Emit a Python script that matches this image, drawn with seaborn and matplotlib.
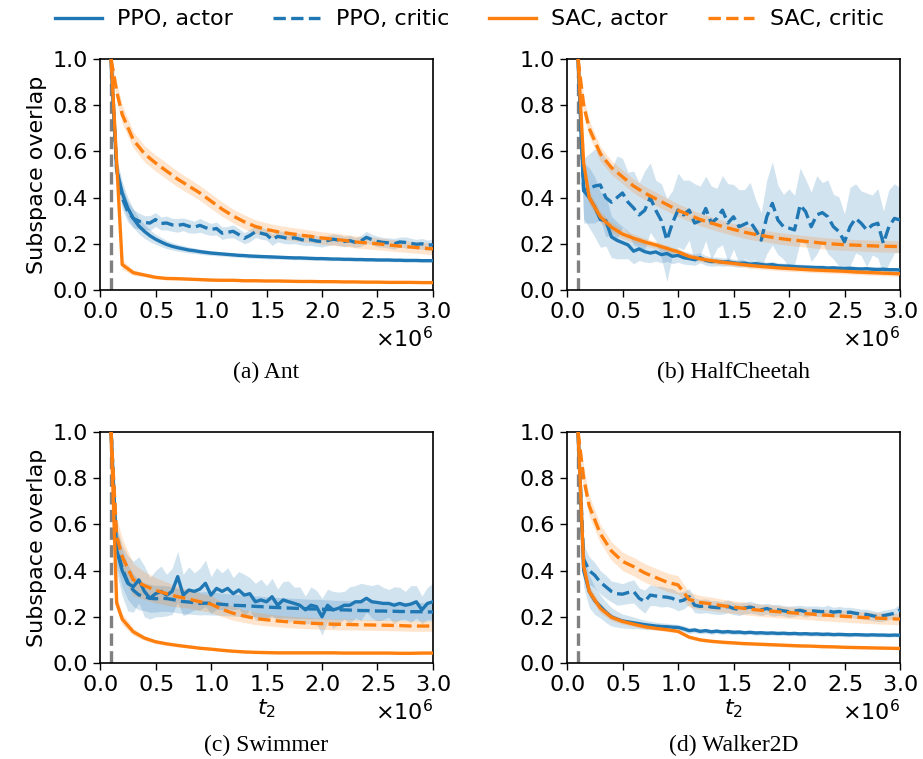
import numpy as np
import matplotlib
matplotlib.use("Agg")
import matplotlib.pyplot as plt
import seaborn as sns

# ---------------- data (x in units of 1e6 environment steps) ----------------
ppo_t = [0.10, 0.15, 0.20, 0.25, 0.30, 0.35, 0.40, 0.45, 0.50, 0.55,
         0.60, 0.65, 0.70, 0.75, 0.80, 0.85, 0.90, 0.95, 1.00, 1.05,
         1.10, 1.15, 1.20, 1.25, 1.30, 1.35, 1.40, 1.45, 1.50, 1.55,
         1.60, 1.65, 1.70, 1.75, 1.80, 1.85, 1.90, 1.95, 2.00, 2.05,
         2.10, 2.15, 2.20, 2.25, 2.30, 2.35, 2.40, 2.45, 2.50, 2.55,
         2.60, 2.65, 2.70, 2.75, 2.80, 2.85, 2.90, 2.95, 3.00]
sac_t = [0.10, 0.15, 0.20, 0.30, 0.40, 0.50, 0.60, 0.70, 0.80, 0.90, 1.00,
         1.10, 1.20, 1.30, 1.40, 1.50, 1.60, 1.70, 1.80, 1.90, 2.00,
         2.10, 2.20, 2.30, 2.40, 2.50, 2.60, 2.70, 2.80, 2.90, 3.00]

# ----- Ant -----
ant_ppo_actor = [1.00, 0.52, 0.42, 0.355, 0.31, 0.277, 0.254, 0.235, 0.220, 0.208,
                 0.197, 0.189, 0.183, 0.178, 0.173, 0.170, 0.166, 0.163, 0.160, 0.158,
                 0.156, 0.154, 0.152, 0.150, 0.149, 0.147, 0.146, 0.145, 0.144, 0.143,
                 0.142, 0.141, 0.140, 0.139, 0.139, 0.138, 0.137, 0.136, 0.136, 0.135,
                 0.134, 0.134, 0.133, 0.133, 0.132, 0.132, 0.131, 0.131, 0.130, 0.130,
                 0.130, 0.129, 0.129, 0.128, 0.128, 0.128, 0.127, 0.127, 0.127]
ant_ppo_actor_hw = [0.0, 0.05, 0.05, 0.045, 0.04, 0.034, 0.03, 0.026, 0.022, 0.02,
                    0.018, 0.016, 0.015, 0.014, 0.013, 0.012, 0.011, 0.011, 0.010, 0.010,
                    0.009, 0.009, 0.009, 0.009, 0.009, 0.009, 0.009, 0.009, 0.009, 0.009,
                    0.008, 0.008, 0.008, 0.008, 0.008, 0.008, 0.008, 0.008, 0.008, 0.008,
                    0.007, 0.007, 0.007, 0.007, 0.007, 0.007, 0.007, 0.007, 0.007, 0.007,
                    0.007, 0.007, 0.007, 0.007, 0.007, 0.007, 0.007, 0.007, 0.007]
ant_ppo_critic = [1.00, 0.52, 0.40, 0.34, 0.31, 0.298, 0.292, 0.290, 0.305, 0.288,
                  0.290, 0.282, 0.280, 0.284, 0.276, 0.272, 0.280, 0.270, 0.262, 0.266,
                  0.246, 0.250, 0.254, 0.240, 0.224, 0.236, 0.252, 0.246, 0.240, 0.218,
                  0.232, 0.228, 0.222, 0.226, 0.220, 0.214, 0.218, 0.212, 0.210, 0.214,
                  0.220, 0.216, 0.210, 0.214, 0.206, 0.212, 0.228, 0.218, 0.210, 0.206,
                  0.204, 0.200, 0.208, 0.206, 0.202, 0.198, 0.200, 0.194, 0.196]
ant_ppo_critic_hw = [0.0, 0.05, 0.05, 0.045, 0.04, 0.035, 0.03, 0.032, 0.03, 0.028,
                     0.03, 0.028, 0.03, 0.027, 0.029, 0.026, 0.03, 0.028, 0.026, 0.028,
                     0.027, 0.025, 0.028, 0.026, 0.024, 0.027, 0.025, 0.026, 0.024, 0.025,
                     0.024, 0.026, 0.023, 0.025, 0.024, 0.022, 0.025, 0.023, 0.024, 0.022,
                     0.023, 0.024, 0.022, 0.023, 0.021, 0.024, 0.026, 0.022, 0.023, 0.021,
                     0.022, 0.023, 0.021, 0.024, 0.022, 0.021, 0.023, 0.022, 0.024]
ant_sac_actor = [1.0, 0.555, 0.11, 0.075, 0.065, 0.055, 0.05, 0.049, 0.047, 0.045, 0.043,
                 0.042, 0.042, 0.040, 0.040, 0.039, 0.039, 0.038, 0.037, 0.037, 0.036,
                 0.036, 0.035, 0.035, 0.034, 0.034, 0.033, 0.033, 0.033, 0.032, 0.032]
ant_sac_actor_hw = [0.0, 0.02, 0.02, 0.012, 0.008, 0.007, 0.006, 0.005, 0.005, 0.005, 0.005,
                    0.004, 0.004, 0.004, 0.004, 0.004, 0.004, 0.004, 0.004, 0.004, 0.004,
                    0.004, 0.004, 0.004, 0.004, 0.004, 0.004, 0.004, 0.004, 0.004, 0.004]
ant_sac_critic = [1.0, 0.86, 0.76, 0.65, 0.59, 0.55, 0.515, 0.48, 0.45, 0.42, 0.385,
                  0.35, 0.32, 0.295, 0.275, 0.262, 0.252, 0.245, 0.238, 0.232, 0.225,
                  0.220, 0.215, 0.208, 0.204, 0.200, 0.195, 0.190, 0.186, 0.182, 0.178]
ant_sac_critic_hw = [0.0, 0.04, 0.04, 0.035, 0.035, 0.035, 0.035, 0.034, 0.033, 0.032, 0.032,
                     0.031, 0.03, 0.03, 0.029, 0.029, 0.028, 0.028, 0.028, 0.027, 0.027,
                     0.027, 0.026, 0.026, 0.026, 0.026, 0.025, 0.025, 0.025, 0.025, 0.025]

# ----- HalfCheetah -----
hc_ppo_actor = [1.00, 0.43, 0.40, 0.36, 0.305, 0.30, 0.23, 0.215, 0.205, 0.195,
                0.168, 0.178, 0.166, 0.160, 0.165, 0.153, 0.158, 0.146, 0.150, 0.140,
                0.136, 0.131, 0.140, 0.128, 0.123, 0.124, 0.121, 0.122, 0.118, 0.115,
                0.117, 0.112, 0.114, 0.110, 0.108, 0.110, 0.105, 0.104, 0.103, 0.101,
                0.100, 0.099, 0.098, 0.097, 0.097, 0.095, 0.096, 0.094, 0.093, 0.094,
                0.092, 0.091, 0.092, 0.090, 0.089, 0.090, 0.088, 0.088, 0.087]
hc_ppo_actor_hw = [0.0, 0.12, 0.13, 0.13, 0.12, 0.11, 0.09, 0.08, 0.07, 0.06,
                   0.055, 0.05, 0.045, 0.042, 0.04, 0.036, 0.034, 0.032, 0.03, 0.028,
                   0.026, 0.024, 0.022, 0.021, 0.02, 0.019, 0.018, 0.017, 0.016, 0.016,
                   0.015, 0.015, 0.014, 0.014, 0.013, 0.013, 0.013, 0.012, 0.012, 0.012,
                   0.012, 0.011, 0.011, 0.011, 0.011, 0.010, 0.010, 0.010, 0.010, 0.010,
                   0.010, 0.010, 0.010, 0.009, 0.009, 0.009, 0.009, 0.009, 0.009]
hc_ppo_critic = [1.00, 0.43, 0.44, 0.45, 0.455, 0.40, 0.38, 0.40, 0.42, 0.38,
                 0.355, 0.325, 0.345, 0.40, 0.345, 0.30, 0.216, 0.29, 0.346, 0.325,
                 0.346, 0.29, 0.30, 0.353, 0.29, 0.31, 0.346, 0.29, 0.317, 0.274,
                 0.285, 0.296, 0.26, 0.216, 0.317, 0.375, 0.303, 0.274, 0.268, 0.26,
                 0.368, 0.339, 0.274, 0.325, 0.335, 0.317, 0.274, 0.253, 0.209, 0.274,
                 0.31, 0.289, 0.26, 0.281, 0.289, 0.202, 0.274, 0.31, 0.303]
hc_ppo_critic_hw = [0.0, 0.14, 0.15, 0.16, 0.15, 0.17, 0.14, 0.18, 0.15, 0.13,
                    0.16, 0.14, 0.17, 0.15, 0.13, 0.16, 0.18, 0.14, 0.16, 0.15,
                    0.13, 0.17, 0.15, 0.14, 0.16, 0.13, 0.15, 0.17, 0.14, 0.16,
                    0.15, 0.17, 0.13, 0.12, 0.16, 0.18, 0.15, 0.14, 0.17, 0.15,
                    0.16, 0.14, 0.15, 0.17, 0.13, 0.16, 0.14, 0.15, 0.12, 0.17,
                    0.15, 0.14, 0.16, 0.13, 0.15, 0.14, 0.16, 0.15, 0.14]
hc_sac_actor = [1.0, 0.55, 0.40, 0.317, 0.272, 0.242, 0.224, 0.208, 0.195, 0.18, 0.165,
                0.145, 0.135, 0.127, 0.12, 0.115, 0.109, 0.104, 0.100, 0.096, 0.093,
                0.090, 0.087, 0.085, 0.083, 0.081, 0.078, 0.076, 0.074, 0.072, 0.070]
hc_sac_actor_hw = [0.0, 0.03, 0.03, 0.025, 0.022, 0.02, 0.018, 0.016, 0.015, 0.014, 0.013,
                   0.012, 0.012, 0.012, 0.012, 0.012, 0.012, 0.012, 0.012, 0.012, 0.012,
                   0.011, 0.011, 0.011, 0.011, 0.011, 0.011, 0.011, 0.011, 0.011, 0.011]
hc_sac_critic = [1.0, 0.80, 0.70, 0.59, 0.53, 0.49, 0.45, 0.42, 0.395, 0.37, 0.345,
                 0.325, 0.305, 0.29, 0.275, 0.262, 0.25, 0.24, 0.232, 0.224, 0.218,
                 0.213, 0.208, 0.203, 0.199, 0.196, 0.194, 0.192, 0.190, 0.189, 0.188]
hc_sac_critic_hw = [0.0, 0.04, 0.035, 0.032, 0.03, 0.03, 0.03, 0.029, 0.029, 0.028, 0.028,
                    0.027, 0.027, 0.027, 0.026, 0.026, 0.026, 0.026, 0.025, 0.025, 0.025,
                    0.025, 0.025, 0.025, 0.025, 0.025, 0.025, 0.025, 0.025, 0.025, 0.025]

# ----- Swimmer -----
sw_ppo_actor = [1.00, 0.49, 0.40, 0.345, 0.33, 0.36, 0.31, 0.28, 0.30, 0.31,
                0.294, 0.31, 0.374, 0.294, 0.316, 0.31, 0.32, 0.345, 0.294, 0.323,
                0.31, 0.323, 0.30, 0.316, 0.294, 0.30, 0.265, 0.273, 0.265, 0.287,
                0.25, 0.273, 0.265, 0.258, 0.25, 0.23, 0.25, 0.244, 0.20, 0.25,
                0.23, 0.237, 0.25, 0.25, 0.265, 0.265, 0.28, 0.265, 0.262, 0.258,
                0.258, 0.25, 0.258, 0.25, 0.255, 0.265, 0.23, 0.258, 0.265]
sw_ppo_actor_hw = [0.0, 0.10, 0.11, 0.12, 0.11, 0.10, 0.11, 0.09, 0.10, 0.11,
                   0.09, 0.10, 0.11, 0.09, 0.10, 0.08, 0.09, 0.10, 0.08, 0.09,
                   0.08, 0.09, 0.07, 0.08, 0.09, 0.07, 0.08, 0.09, 0.07, 0.08,
                   0.07, 0.08, 0.09, 0.07, 0.08, 0.06, 0.08, 0.07, 0.08, 0.07,
                   0.08, 0.07, 0.06, 0.08, 0.07, 0.08, 0.06, 0.07, 0.08, 0.07,
                   0.06, 0.08, 0.07, 0.06, 0.08, 0.07, 0.06, 0.07, 0.08]
sw_ppo_critic = [1.00, 0.50, 0.41, 0.35, 0.315, 0.295, 0.287, 0.28, 0.278, 0.28,
                 0.279, 0.275, 0.27, 0.266, 0.264, 0.261, 0.258, 0.259, 0.258, 0.256,
                 0.254, 0.252, 0.250, 0.249, 0.248, 0.247, 0.245, 0.244, 0.242, 0.241,
                 0.240, 0.239, 0.238, 0.237, 0.236, 0.235, 0.234, 0.234, 0.233, 0.232,
                 0.231, 0.230, 0.230, 0.229, 0.228, 0.227, 0.227, 0.226, 0.225, 0.225,
                 0.224, 0.224, 0.223, 0.223, 0.222, 0.222, 0.222, 0.221, 0.221]
sw_ppo_critic_hw = [0.0, 0.08, 0.08, 0.075, 0.07, 0.065, 0.06, 0.06, 0.058, 0.056,
                    0.055, 0.054, 0.053, 0.052, 0.052, 0.051, 0.05, 0.05, 0.05, 0.049,
                    0.048, 0.048, 0.047, 0.047, 0.046, 0.046, 0.045, 0.045, 0.045, 0.044,
                    0.044, 0.044, 0.043, 0.043, 0.043, 0.042, 0.042, 0.042, 0.042, 0.041,
                    0.041, 0.041, 0.041, 0.041, 0.041, 0.041, 0.041, 0.041, 0.041, 0.041,
                    0.040, 0.040, 0.040, 0.040, 0.040, 0.040, 0.040, 0.040, 0.040]
sw_sac_actor = [1.0, 0.26, 0.19, 0.135, 0.108, 0.092, 0.083, 0.076, 0.070, 0.064, 0.060,
                0.055, 0.051, 0.048, 0.046, 0.045, 0.044, 0.044, 0.044, 0.044, 0.044,
                0.044, 0.043, 0.043, 0.043, 0.043, 0.043, 0.042, 0.042, 0.043, 0.043]
sw_sac_actor_hw = [0.0, 0.03, 0.025, 0.015, 0.01, 0.008, 0.007, 0.006, 0.006, 0.005, 0.005,
                   0.005, 0.005, 0.005, 0.005, 0.005, 0.005, 0.005, 0.005, 0.005, 0.005,
                   0.004, 0.004, 0.004, 0.004, 0.004, 0.004, 0.004, 0.004, 0.004, 0.004]
sw_sac_critic = [1.0, 0.55, 0.46, 0.36, 0.335, 0.315, 0.30, 0.287, 0.277, 0.265, 0.255,
                 0.232, 0.215, 0.203, 0.193, 0.187, 0.182, 0.178, 0.175, 0.172, 0.170,
                 0.168, 0.167, 0.166, 0.165, 0.164, 0.163, 0.162, 0.160, 0.160, 0.160]
sw_sac_critic_hw = [0.0, 0.08, 0.08, 0.07, 0.06, 0.055, 0.05, 0.045, 0.04, 0.038, 0.036,
                    0.032, 0.03, 0.028, 0.027, 0.026, 0.025, 0.025, 0.025, 0.024, 0.024,
                    0.024, 0.024, 0.023, 0.023, 0.023, 0.023, 0.023, 0.023, 0.023, 0.023]

# ----- Walker2D -----
wk_ppo_actor = [1.00, 0.40, 0.31, 0.27, 0.245, 0.22, 0.20, 0.19, 0.182, 0.178,
                0.174, 0.17, 0.166, 0.163, 0.16, 0.158, 0.157, 0.155, 0.154, 0.148,
                0.14, 0.143, 0.137, 0.14, 0.135, 0.138, 0.134, 0.136, 0.133, 0.134,
                0.131, 0.133, 0.13, 0.131, 0.129, 0.13, 0.128, 0.129, 0.127, 0.128,
                0.126, 0.127, 0.125, 0.126, 0.124, 0.125, 0.123, 0.124, 0.123, 0.122,
                0.123, 0.122, 0.121, 0.122, 0.121, 0.121, 0.120, 0.121, 0.120]
wk_ppo_actor_hw = [0.0, 0.07, 0.07, 0.06, 0.05, 0.045, 0.04, 0.035, 0.03, 0.028,
                   0.025, 0.022, 0.02, 0.018, 0.017, 0.016, 0.015, 0.014, 0.013, 0.013,
                   0.012, 0.012, 0.011, 0.011, 0.011, 0.010, 0.010, 0.010, 0.010, 0.010,
                   0.009, 0.009, 0.009, 0.009, 0.009, 0.009, 0.009, 0.009, 0.009, 0.009,
                   0.009, 0.009, 0.009, 0.009, 0.009, 0.009, 0.009, 0.009, 0.009, 0.009,
                   0.008, 0.008, 0.008, 0.008, 0.008, 0.008, 0.008, 0.008, 0.008]
wk_ppo_critic = [1.00, 0.45, 0.40, 0.38, 0.35, 0.33, 0.31, 0.30, 0.298, 0.305,
                 0.31, 0.28, 0.266, 0.294, 0.29, 0.287, 0.285, 0.28, 0.266, 0.272,
                 0.287, 0.25, 0.245, 0.248, 0.242, 0.24, 0.238, 0.245, 0.236, 0.232,
                 0.238, 0.242, 0.236, 0.23, 0.236, 0.228, 0.23, 0.226, 0.222, 0.225,
                 0.228, 0.222, 0.226, 0.224, 0.222, 0.226, 0.22, 0.223, 0.218, 0.22,
                 0.215, 0.212, 0.21, 0.205, 0.20, 0.205, 0.21, 0.215, 0.23]
wk_ppo_critic_hw = [0.0, 0.06, 0.06, 0.055, 0.05, 0.05, 0.045, 0.05, 0.045, 0.048,
                    0.05, 0.045, 0.05, 0.045, 0.042, 0.045, 0.04, 0.042, 0.04, 0.038,
                    0.035, 0.032, 0.03, 0.03, 0.028, 0.03, 0.027, 0.028, 0.026, 0.027,
                    0.025, 0.026, 0.024, 0.025, 0.023, 0.025, 0.024, 0.022, 0.024, 0.023,
                    0.022, 0.024, 0.021, 0.023, 0.022, 0.024, 0.021, 0.022, 0.023, 0.021,
                    0.022, 0.021, 0.023, 0.022, 0.021, 0.024, 0.022, 0.023, 0.025]
wk_sac_actor = [1.0, 0.42, 0.31, 0.237, 0.198, 0.18, 0.168, 0.157, 0.15, 0.144, 0.137,
                0.112, 0.100, 0.094, 0.090, 0.087, 0.084, 0.082, 0.080, 0.078, 0.076,
                0.074, 0.073, 0.071, 0.070, 0.068, 0.067, 0.066, 0.065, 0.064, 0.063]
wk_sac_actor_hw = [0.0, 0.03, 0.025, 0.02, 0.015, 0.012, 0.01, 0.009, 0.008, 0.008, 0.008,
                   0.007, 0.007, 0.007, 0.007, 0.007, 0.007, 0.007, 0.007, 0.007, 0.007,
                   0.006, 0.006, 0.006, 0.006, 0.006, 0.006, 0.006, 0.006, 0.006, 0.006]
wk_sac_critic = [1.0, 0.80, 0.68, 0.56, 0.485, 0.44, 0.417, 0.39, 0.37, 0.35, 0.338,
                 0.275, 0.262, 0.256, 0.248, 0.242, 0.236, 0.230, 0.226, 0.222, 0.218,
                 0.215, 0.212, 0.208, 0.205, 0.202, 0.199, 0.196, 0.194, 0.192, 0.190]
wk_sac_critic_hw = [0.0, 0.05, 0.045, 0.04, 0.04, 0.04, 0.04, 0.04, 0.04, 0.04, 0.04,
                    0.032, 0.03, 0.029, 0.028, 0.027, 0.027, 0.026, 0.026, 0.026, 0.025,
                    0.025, 0.025, 0.025, 0.025, 0.025, 0.025, 0.025, 0.025, 0.025, 0.025]

captions = ["(a) Ant", "(b) HalfCheetah", "(c) Swimmer", "(d) Walker2D"]
series_labels = ["PPO, actor", "PPO, critic", "SAC, actor", "SAC, critic"]
y_ticks = [0.0, 0.2, 0.4, 0.6, 0.8, 1.0]
x_ticks = [0.0, 0.5, 1.0, 1.5, 2.0, 2.5, 3.0]
start_step = 0.1

panels = [
    [(ant_ppo_actor, ant_ppo_actor_hw), (ant_ppo_critic, ant_ppo_critic_hw),
     (ant_sac_actor, ant_sac_actor_hw), (ant_sac_critic, ant_sac_critic_hw)],
    [(hc_ppo_actor, hc_ppo_actor_hw), (hc_ppo_critic, hc_ppo_critic_hw),
     (hc_sac_actor, hc_sac_actor_hw), (hc_sac_critic, hc_sac_critic_hw)],
    [(sw_ppo_actor, sw_ppo_actor_hw), (sw_ppo_critic, sw_ppo_critic_hw),
     (sw_sac_actor, sw_sac_actor_hw), (sw_sac_critic, sw_sac_critic_hw)],
    [(wk_ppo_actor, wk_ppo_actor_hw), (wk_ppo_critic, wk_ppo_critic_hw),
     (wk_sac_actor, wk_sac_actor_hw), (wk_sac_critic, wk_sac_critic_hw)],
]

# ---------------- styling ----------------
BLUE = "#1f77b4"
ORANGE = "#ff7f0e"
colors = [BLUE, BLUE, ORANGE, ORANGE]
styles = ["-", "--", "-", "--"]
grids = [ppo_t, ppo_t, sac_t, sac_t]

plt.rcParams["font.family"] = ["DejaVu Sans"]
plt.rcParams["mathtext.fontset"] = "dejavusans"

W, H = 923, 759
fig = plt.figure(figsize=(W / 100, H / 100), dpi=100)

lefts = [100, 567, 100, 567]
tops = [59, 59, 432, 432]
aw, ah = 333, 231

legend_handles = []
for k in range(4):
    ax = fig.add_axes([lefts[k] / W, 1 - (tops[k] + ah) / H, aw / W, ah / H])
    ax.axvline(start_step * 1e6, ymin=0, ymax=1, color="gray", ls="--",
               lw=2.4, zorder=1)
    for j, (mean, hw) in enumerate(panels[k]):
        x = np.array(grids[j]) * 1e6
        m = np.array(mean)
        h = np.array(hw)
        ax.fill_between(x, m - h, m + h, color=colors[j], alpha=0.2, lw=0, zorder=2)
        sns.lineplot(x=x, y=m, ax=ax, color=colors[j], linestyle=styles[j],
                     linewidth=2.4, errorbar=None, legend=False, zorder=3)
        if k == 0:
            ln = ax.lines[-1]
            ln.set_label(series_labels[j])
            legend_handles.append(ln)
    ax.set_xlim(0, 3e6)
    ax.set_ylim(0, 1.0)
    ax.set_xticks([t * 1e6 for t in x_ticks])
    ax.set_yticks(y_ticks)
    ax.set_yticklabels([f"{t:.1f}" for t in y_ticks])
    ax.ticklabel_format(axis="x", style="sci", scilimits=(0, 0), useMathText=True)
    ax.tick_params(labelsize=16, length=5, width=1.0)
    ax.xaxis.get_offset_text().set_fontsize(16)
    for sp in ax.spines.values():
        sp.set_linewidth(1.2)
        sp.set_color("black")
    ax.set_xlabel("$t_2$" if k >= 2 else "", fontsize=16, labelpad=2)
    ax.set_ylabel("Subspace overlap" if k % 2 == 0 else "", fontsize=16)
    cx = (lefts[k] + aw / 2) / W
    cy = 1 - (tops[k] + 313) / H
    fig.text(cx, cy, captions[k], ha="center", va="center",
             fontsize=17, family=["Liberation Serif", "DejaVu Serif"])

fig.legend(handles=legend_handles, loc="upper center", ncol=4, frameon=False,
           fontsize=16, bbox_to_anchor=(0.5087, 1.014), columnspacing=1.8,
           handlelength=2.1, handletextpad=0.7)

fig.savefig("out.png", dpi=100)
